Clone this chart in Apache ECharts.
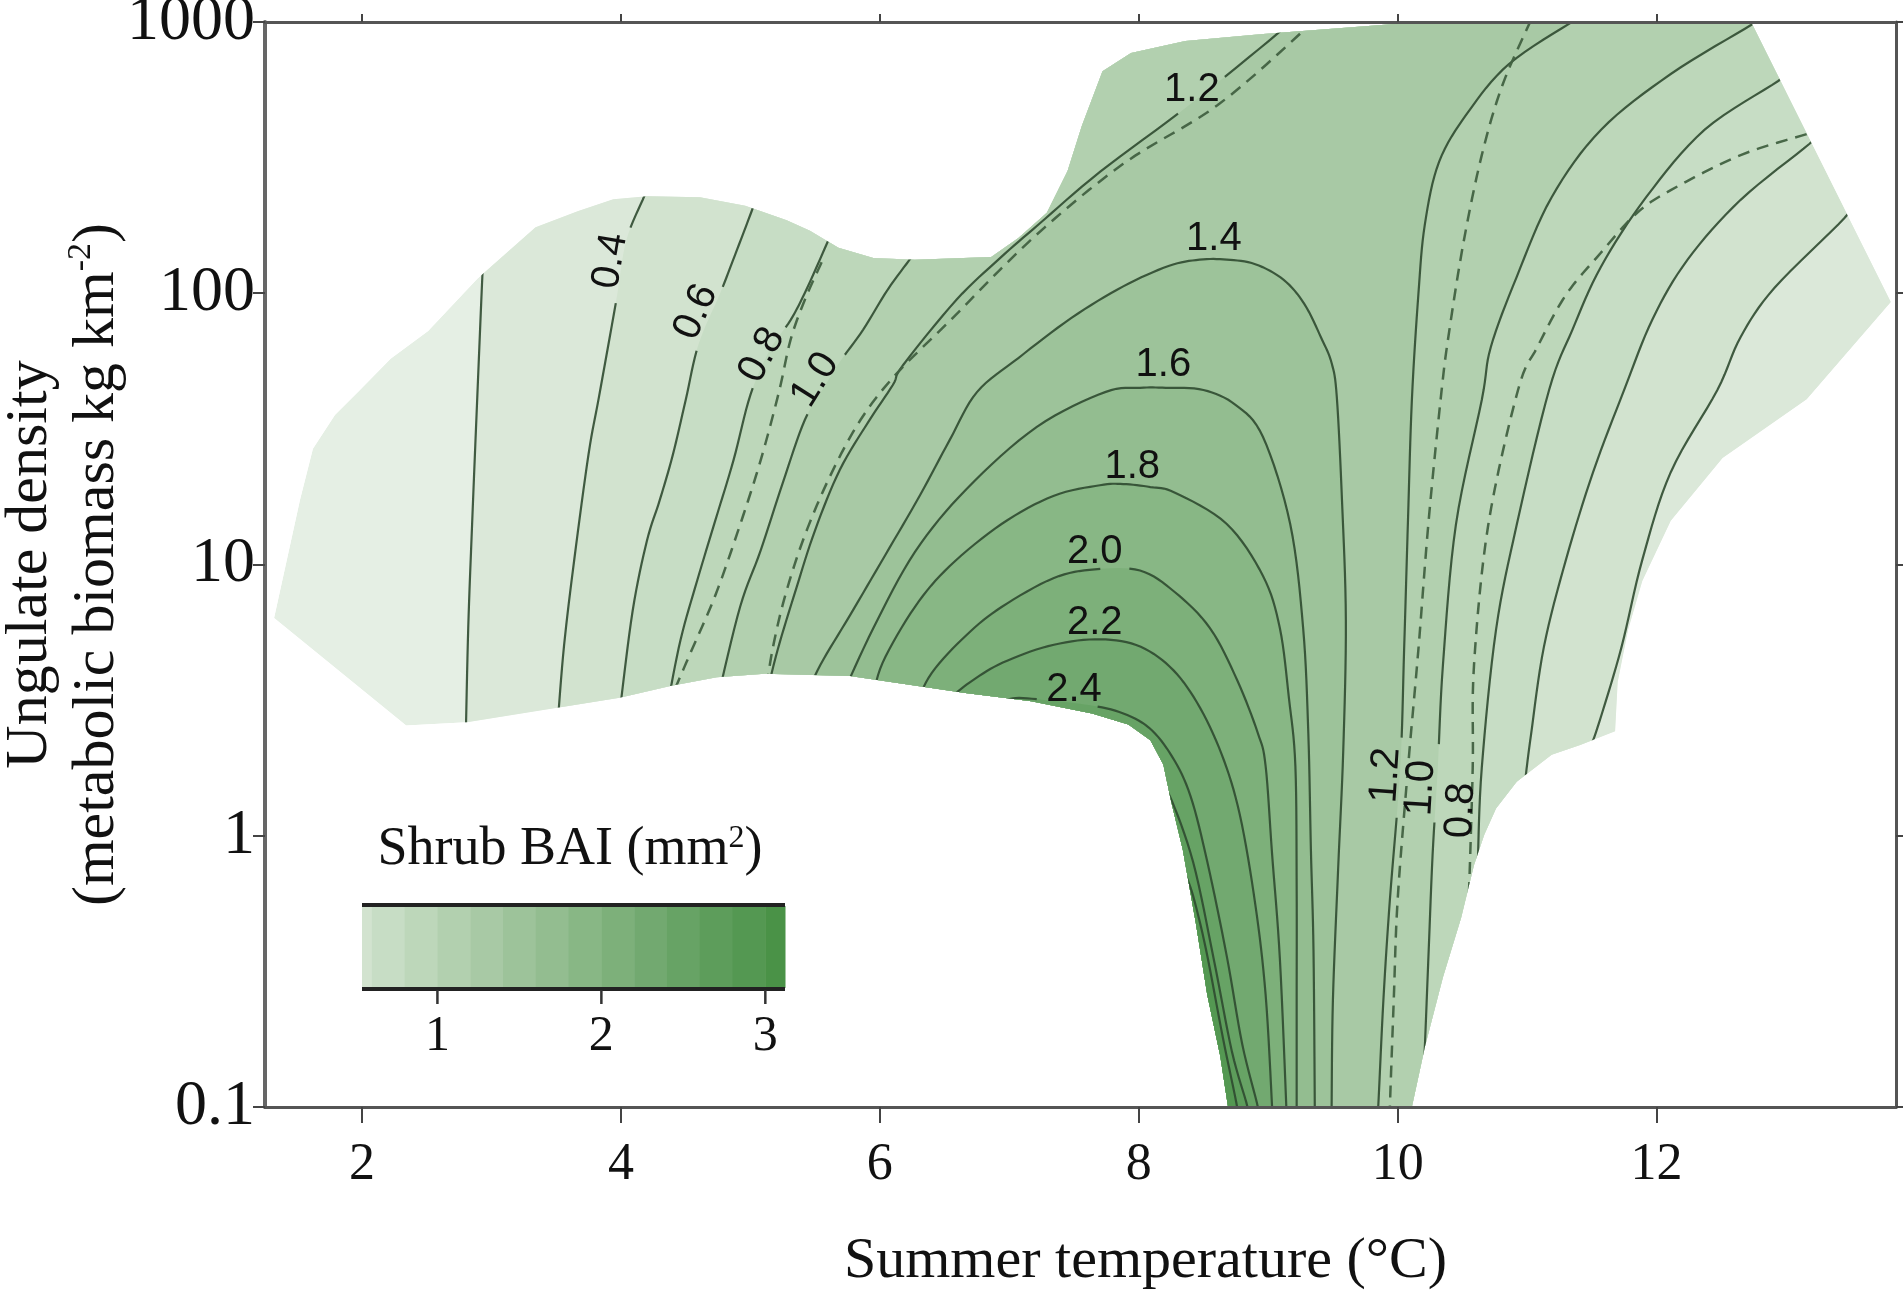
<!DOCTYPE html>
<html>
<head>
<meta charset="utf-8">
<script src="https://cdn.jsdelivr.net/npm/echarts@6/dist/echarts.min.js"></script>
<style>
  html, body { margin: 0; padding: 0; background: #fff; }
  #chart { width: 1903px; height: 1304px; }
</style>
</head>
<body>
<div id="chart"></div>
<script>
// ---- data (x: summer temperature, y: ungulate density) ----
const xTicks = [2, 4, 6, 8, 10, 12];

const paletteLevels = [0.2, 0.4, 0.6, 0.8, 1.0, 1.2, 1.4, 1.6, 1.8, 2.0, 2.2, 2.4, 2.6, 2.8, 3.0];
const baseColor = '#e5efe4';
const bandColors = ['#dbe8d9', '#d2e3cf', '#c7ddc5', '#bdd7ba', '#b2d0af', '#a8c9a5', '#9dc39a',
  '#93bd90', '#88b785', '#7db07a', '#72a970', '#67a365', '#5d9d5b', '#549852', '#4a9247'];

// sampled region of the model surface
const domainOutline = [
  [1.32, 6.35], [1.52, 17.3], [1.62, 26.7], [1.79, 35.6], [1.97, 43.3], [2.22, 57.3], [2.51, 72.6],
  [2.89, 113], [3.34, 175], [3.67, 201], [3.94, 222], [4.20, 228], [4.61, 226], [4.96, 210],
  [5.28, 186], [5.46, 170], [5.68, 147], [5.95, 135], [6.27, 133], [6.86, 136], [7.07, 160],
  [7.29, 198], [7.45, 282], [7.56, 414], [7.72, 659], [7.94, 769], [8.36, 851], [8.96, 903],
  [9.67, 959], [10.18, 1000], [12.73, 1000], [13.81, 92.9], [13.16, 40.7], [12.51, 24.7],
  [12.11, 14.5], [11.89, 8.69], [11.78, 5.74], [11.70, 3.69], [11.68, 2.43], [11.41, 2.16],
  [11.19, 1.99], [10.92, 1.58], [10.76, 1.26], [10.67, 1.01], [10.59, 0.78], [10.49, 0.498],
  [10.35, 0.301], [10.21, 0.166], [10.11, 0.1], [8.69, 0.1], [8.63, 0.154], [8.53, 0.258],
  [8.44, 0.48], [8.34, 0.89], [8.25, 1.34], [8.19, 1.83], [8.09, 2.25], [7.92, 2.57],
  [7.64, 2.82], [7.17, 3.13], [6.66, 3.36], [5.77, 3.88], [5.11, 3.96], [4.74, 3.84],
  [4.39, 3.57], [3.99, 3.23], [3.52, 2.97], [2.81, 2.62], [2.34, 2.55]
];

// contour lines of shrub BAI
const c02Left = [[2.80, 2.2], [2.82, 5.83], [2.85, 14.1], [2.89, 41.5], [2.93, 118], [2.94, 135]];
const c04Left = [[3.51, 2.56], [3.56, 5.01], [3.64, 10.5], [3.75, 25.6], [3.83, 41.5], [3.96, 92.0],
  [4.04, 156], [4.18, 228], [4.21, 251]];
const c04Right = [[13.50, 212], [13.45, 189], [12.91, 104.5], [12.65, 69.0], [12.47, 44.0], [12.11, 21.9],
  [11.89, 10.4], [11.73, 4.97], [11.57, 2.74], [11.49, 2.11]];
const c06Left = [[3.99, 2.86], [4.09, 6.74], [4.20, 12.2], [4.30, 17.3], [4.40, 25.3], [4.50, 40.4],
  [4.60, 65.0], [4.77, 101], [4.88, 138], [5.01, 201], [5.04, 221]];
const c06Right = [[13.23, 383], [13.18, 355], [12.65, 221], [12.24, 133], [11.97, 80.4], [11.75, 44.0],
  [11.51, 21.9], [11.30, 10.4], [11.13, 4.97], [11.03, 2.35], [10.99, 1.67]];
const c08Left = [[4.36, 3.03], [4.46, 5.27], [4.59, 8.77], [4.73, 14.6], [4.87, 24.3], [5.00, 42.2],
  [5.15, 61.8], [5.31, 79.6], [5.44, 105], [5.63, 168], [5.68, 187]];
const c08Right = [[12.97, 638], [12.94, 606], [12.37, 400], [11.92, 226], [11.57, 125], [11.35, 73.3],
  [11.17, 44.0], [10.92, 14.0], [10.76, 5.74], [10.65, 1.78], [10.62, 0.815]];
const c10Left = [[4.75, 3.25], [4.92, 6.97], [5.08, 11.3], [5.25, 20.0], [5.42, 34.1], [5.58, 45.9],
  [5.69, 55.8], [5.87, 73.3], [6.06, 103], [6.24, 135], [6.28, 144]];
const c10Right = [[12.77, 1016], [12.73, 975], [12.11, 643], [11.57, 400], [11.19, 226], [10.92, 115],
  [10.72, 63.4], [10.65, 40.4], [10.45, 14.0], [10.35, 4.26], [10.31, 1.78], [10.27, 0.849],
  [10.24, 0.379], [10.21, 0.166], [10.20, 0.137]];
const c12Left = [[5.11, 3.11], [5.21, 4.84], [5.35, 8.05], [5.50, 13.4], [5.69, 22.3], [5.91, 33.5],
  [6.10, 45.9], [6.18, 54.4], [6.59, 94.4], [6.93, 135], [7.23, 180], [7.70, 280], [8.39, 494],
  [9.06, 896], [9.22, 1061]];
const c12Right = [[11.49, 1089], [11.37, 1016], [10.86, 700], [10.54, 462], [10.32, 305], [10.21, 179],
  [10.16, 98.6], [10.11, 40.4], [10.08, 14.6], [10.05, 4.84], [10.02, 1.78], [9.94, 0.580],
  [9.89, 0.248], [9.85, 0.1], [9.84, 0.09]];
const c14 = [[5.41, 3.11], [5.54, 4.26], [5.77, 6.51], [6.04, 10.8], [6.31, 18.0], [6.54, 28.8],
  [6.75, 43.2], [7.07, 57.7], [7.48, 81.1], [7.88, 106], [8.23, 126], [8.47, 133], [8.68, 133],
  [8.90, 128], [9.12, 112], [9.28, 91.2], [9.41, 68.4], [9.49, 55.3], [9.53, 41.5], [9.57, 17.3],
  [9.60, 6.24], [9.58, 2.07], [9.54, 0.748], [9.50, 0.248], [9.49, 0.1], [9.49, 0.09]];
const c16 = [[5.70, 3.22], [5.95, 5.83], [6.27, 11.1], [6.67, 19.0], [7.21, 32.1], [7.74, 43.2],
  [8.01, 44.8], [8.21, 44.8], [8.50, 44.0], [8.75, 38.7], [8.96, 29.5], [9.17, 14.1], [9.27, 5.83],
  [9.31, 2.39], [9.33, 0.886], [9.35, 0.379], [9.36, 0.1], [9.36, 0.09]];
const c18 = [[5.94, 3.11], [6.02, 4.33], [6.27, 6.97], [6.54, 9.87], [6.94, 14.1], [7.34, 17.9],
  [7.70, 19.6], [7.88, 19.8], [8.09, 19.3], [8.28, 18.4], [8.68, 14.1], [8.96, 9.07], [9.09, 5.83],
  [9.16, 3.22], [9.21, 1.81], [9.22, 0.637], [9.22, 0.248], [9.22, 0.1], [9.22, 0.09]];
const c20 = [[6.27, 2.96], [6.40, 3.98], [6.67, 5.50], [6.94, 6.97], [7.34, 8.9], [7.66, 9.6],
  [8.01, 9.5], [8.28, 7.9], [8.55, 5.83], [8.76, 3.75], [8.92, 2.39], [8.98, 1.81], [9.03, 0.857],
  [9.09, 0.354], [9.14, 0.1], [9.14, 0.09]];
const c22 = [[6.55, 3.25], [6.72, 3.75], [6.95, 4.35], [7.30, 5.0], [7.66, 5.3], [7.98, 5.05],
  [8.24, 4.2], [8.45, 3.1], [8.64, 2.0], [8.78, 1.2], [8.90, 0.56], [8.98, 0.26], [9.03, 0.1],
  [9.03, 0.09]];
const c24 = [[6.95, 3.1], [7.05, 3.22], [7.32, 3.15], [7.58, 3.05], [7.85, 2.86], [8.08, 2.50],
  [8.26, 1.95], [8.40, 1.40], [8.53, 0.80], [8.68, 0.36], [8.80, 0.17], [8.92, 0.1], [8.92, 0.09]];
const c26 = [[8.15, 1.6], [8.24, 1.4], [8.42, 0.8], [8.58, 0.35], [8.72, 0.16], [8.84, 0.1], [8.84, 0.09]];
const c28 = [[8.36, 0.72], [8.42, 0.6], [8.52, 0.38], [8.65, 0.18], [8.76, 0.1], [8.76, 0.09]];

// dashed reference contours
const dashLeftA = [[5.55, 130], [5.42, 94.4], [5.31, 67.3], [5.22, 43.2], [5.08, 24.3], [4.92, 14.0],
  [4.73, 7.72], [4.53, 4.64], [4.38, 3.16], [4.35, 2.9]];
const dashLeftB = [[9.33, 1016], [9.27, 927], [8.61, 494], [7.88, 300], [7.19, 161], [6.54, 79.1],
  [6.12, 50.0], [5.85, 34.1], [5.62, 21.4], [5.42, 12.8], [5.27, 7.72], [5.17, 4.84], [5.11, 3.16],
  [5.09, 2.9]];
const dashRightA = [[11.03, 1016], [10.81, 586], [10.65, 323], [10.51, 155], [10.40, 73.3], [10.34, 44.0],
  [10.24, 14.6], [10.16, 4.84], [10.08, 1.78], [10.00, 0.580], [9.97, 0.248], [9.94, 0.1], [9.94, 0.09]];
const dashRightB = [[13.16, 386], [12.65, 323], [12.11, 240], [11.84, 196], [11.57, 141], [11.30, 98.6],
  [11.08, 63.4], [10.93, 44.0], [10.70, 14.0], [10.59, 4.26], [10.58, 1.78], [10.55, 0.595], [10.54, 0.5]];

// contour labels: text, x, y (label centre)
const contourLabels = [
  ['0.4', 3.92, 131.5], ['0.6', 4.58, 85.3], ['0.8', 5.09, 59.2], ['1.0', 5.50, 47.9],
  ['1.2', 8.41, 561], ['1.4', 8.58, 158], ['1.6', 8.19, 54.4], ['1.8', 7.95, 22.9],
  ['2.0', 7.66, 11.1], ['2.2', 7.66, 6.1], ['2.4', 7.50, 3.45],
  ['1.2', 9.91, 1.67], ['1.0', 10.18, 1.50], ['0.8', 10.49, 1.24]
];

const legendTicks = [1, 2, 3];
const legendRange = [0.54, 3.12];

// ---- drawing ----
const contourParts = [
  [0.2, [c02Left]], [0.4, [c04Left, c04Right]], [0.6, [c06Left, c06Right]],
  [0.8, [c08Left, c08Right]], [1.0, [c10Left, c10Right]], [1.2, [c12Left, c12Right]],
  [1.4, [c14]], [1.6, [c16]], [1.8, [c18]], [2.0, [c20]], [2.2, [c22]], [2.4, [c24]],
  [2.6, [c26]], [2.8, [c28]]
];
const dashedLines = [dashLeftA, dashLeftB, dashRightA, dashRightB];

const serif = '"Liberation Serif", "Times New Roman", serif';
const sans = '"Liberation Sans", Arial, sans-serif';
const labelFont = 40;
const lineColor = '#2f4a30';

function colorAt(v) {
  let c = baseColor;
  paletteLevels.forEach((l, i) => { if (v >= l - 1e-9) c = bandColors[i]; });
  return c;
}

function catmull(pts, steps) {
  if (pts.length < 3) return pts.slice();
  const out = [];
  for (let i = 0; i < pts.length - 1; i++) {
    const p0 = pts[Math.max(i - 1, 0)], p1 = pts[i], p2 = pts[i + 1], p3 = pts[Math.min(i + 2, pts.length - 1)];
    for (let s = 0; s < steps; s++) {
      const t = s / steps, t2 = t * t, t3 = t2 * t;
      out.push([0, 1].map(k => 0.5 * (2 * p1[k] + (p2[k] - p0[k]) * t +
        (2 * p0[k] - 5 * p1[k] + 4 * p2[k] - p3[k]) * t2 + (3 * p1[k] - p0[k] - 3 * p2[k] + p3[k]) * t3)));
    }
  }
  out.push(pts[pts.length - 1]);
  return out;
}

function renderContours(params, api) {
  const cs = params.coordSys;
  const top = cs.y - 80, bottom = cs.y + cs.height + 80, right = cs.x + cs.width + 80;
  const toPx = pts => pts.map(p => api.coord(p));
  const smooth = pts => catmull(toPx(pts), 8);
  const outlinePx = toPx(domainOutline);

  const fills = [{ type: 'polygon', shape: { points: outlinePx }, style: { fill: baseColor } }];
  const solid = [];
  contourParts.forEach(([level, parts]) => {
    const segs = parts.map(smooth);
    const poly = [[segs[0][0][0], bottom]];
    segs.forEach((seg, j) => {
      if (j > 0) {
        const prev = segs[j - 1][segs[j - 1].length - 1];
        poly.push([prev[0], top], [seg[0][0], top]);
      }
      seg.forEach(p => poly.push(p));
    });
    const lastSeg = segs[segs.length - 1];
    const last = lastSeg[lastSeg.length - 1];
    if (last[1] < cs.y + cs.height / 2) poly.push([last[0], top], [right, top], [right, bottom]);
    else poly.push([last[0], bottom]);
    fills.push({ type: 'polygon', shape: { points: poly }, style: { fill: colorAt(level) } });
    segs.forEach(seg => solid.push({ level, seg }));
  });

  const labels = contourLabels.map(([text, x, y]) => {
    const c = api.coord([x, y]);
    const level = parseFloat(text);
    let best = null, bestD = Infinity;
    solid.filter(s => Math.abs(s.level - level) < 1e-6).forEach(s => {
      s.seg.forEach((p, k) => {
        const d = Math.hypot(p[0] - c[0], p[1] - c[1]);
        if (d < bestD) { bestD = d; best = { seg: s.seg, k }; }
      });
    });
    const a = best.seg[Math.max(best.k - 3, 0)];
    const b = best.seg[Math.min(best.k + 3, best.seg.length - 1)];
    let ang = Math.atan2(-(b[1] - a[1]), b[0] - a[0]);
    if (ang > Math.PI / 2) ang -= Math.PI;
    if (ang <= -Math.PI / 2) ang += Math.PI;
    if (Math.abs(ang) < Math.PI / 4) ang = 0;
    return { text, level, c, ang, w: text.length * 0.5 * labelFont, h: 0.72 * labelFont };
  });

  const inLabel = (p, level) => labels.some(L => {
    if (Math.abs(L.level - level) > 1e-6) return false;
    const dx = p[0] - L.c[0], dy = p[1] - L.c[1];
    const u = dx * Math.cos(L.ang) - dy * Math.sin(L.ang);
    const v = -dx * Math.sin(L.ang) - dy * Math.cos(L.ang);
    return Math.abs(u) < L.w / 2 + 3 && Math.abs(v) < L.h / 2 + 2;
  });

  const lines = [];
  solid.forEach(({ level, seg }) => {
    let run = [];
    seg.forEach(p => {
      if (inLabel(p, level)) { if (run.length > 1) lines.push(run); run = []; }
      else run.push(p);
    });
    if (run.length > 1) lines.push(run);
  });

  const lineEls = lines.map(pts => ({
    type: 'polyline', shape: { points: pts },
    style: { stroke: lineColor, lineWidth: 2.2, fill: null, opacity: 0.9 }
  }));
  const dashEls = dashedLines.map(d => ({
    type: 'polyline', shape: { points: smooth(d) },
    style: { stroke: '#416141', lineWidth: 2.5, fill: null, lineDash: [12, 8], opacity: 0.95 }
  }));
  const textEls = labels.map(L => ({
    type: 'text', x: L.c[0], y: L.c[1], rotation: L.ang,
    style: {
      text: L.text, fill: '#111', font: labelFont + 'px ' + sans,
      align: 'center', verticalAlign: 'middle', textAlign: 'center', textVerticalAlign: 'middle'
    }
  }));

  return {
    type: 'group',
    children: [
      {
        type: 'group',
        clipPath: { type: 'polygon', shape: { points: outlinePx } },
        children: fills.concat(lineEls, dashEls)
      },
      { type: 'group', children: textEls }
    ]
  };
}

// legend colour bar
const legendBox = { left: 362, right: 785, top: 906, bottom: 988 };
const toLegendX = v => legendBox.left + (v - legendRange[0]) / (legendRange[1] - legendRange[0]) * (legendBox.right - legendBox.left);
const legendEdges = [legendRange[0]].concat(paletteLevels.filter(l => l > legendRange[0] && l < legendRange[1]), [legendRange[1]]);
const legendEls = [];
for (let i = 0; i < legendEdges.length - 1; i++) {
  const x0 = toLegendX(legendEdges[i]), x1 = toLegendX(legendEdges[i + 1]);
  legendEls.push({
    type: 'rect', shape: { x: x0, y: legendBox.top, width: x1 - x0 + 0.5, height: legendBox.bottom - legendBox.top },
    style: { fill: colorAt(legendEdges[i] + 1e-6) }
  });
}
legendEls.push(
  { type: 'rect', shape: { x: legendBox.left, y: legendBox.top - 3, width: legendBox.right - legendBox.left, height: 4 }, style: { fill: '#222' } },
  { type: 'rect', shape: { x: legendBox.left, y: legendBox.bottom - 1, width: legendBox.right - legendBox.left, height: 4 }, style: { fill: '#222' } }
);
legendTicks.forEach(t => {
  const x = toLegendX(t);
  legendEls.push(
    { type: 'line', shape: { x1: x, y1: legendBox.bottom + 2, x2: x, y2: legendBox.bottom + 16 }, style: { stroke: '#333', lineWidth: 2.5 } },
    { type: 'text', x: x, y: legendBox.bottom + 24,
      style: { text: String(t), fill: '#111', font: '50px ' + serif, align: 'center', verticalAlign: 'top', textAlign: 'center', textVerticalAlign: 'top' } }
  );
});
legendEls.push({
  type: 'text', x: 570, y: 850,
  style: {
    text: 'Shrub BAI (mm{sup|2})', fill: '#111', font: '54px ' + serif,
    align: 'center', verticalAlign: 'middle', textAlign: 'center', textVerticalAlign: 'middle',
    rich: { sup: { fontSize: 32, fontFamily: serif, verticalAlign: 'top', fill: '#111' } }
  }
});

const axisLine = { show: true, onZero: false, lineStyle: { color: '#555', width: 3 } };
const tickStyle = { color: '#444', width: 2 };

const option = {
  animation: false,
  backgroundColor: '#fff',
  grid: { left: 265, right: 7, top: 22, bottom: 197, containLabel: false, outerBoundsMode: 'none' },
  xAxis: [
    {
      type: 'value', min: 1.25, max: 13.85, position: 'bottom', z: 10,
      axisLine,
      axisTick: { show: true, length: 16, customValues: xTicks, lineStyle: tickStyle },
      axisLabel: { customValues: xTicks, margin: 32, fontFamily: serif, fontSize: 52, color: '#111' },
      splitLine: { show: false },
      name: 'Summer temperature (°C)', nameLocation: 'middle', nameGap: 126, nameMoveOverlap: false,
      nameTextStyle: { fontFamily: serif, fontSize: 58, color: '#111', padding: [0, 0, 0, 130] }
    },
    {
      type: 'value', min: 1.25, max: 13.85, position: 'top', z: 10,
      axisLine,
      axisTick: { show: true, length: 8, customValues: xTicks, lineStyle: tickStyle },
      axisLabel: { show: false }, splitLine: { show: false }
    }
  ],
  yAxis: [
    {
      type: 'log', logBase: 10, min: 0.1, max: 1000, position: 'left', z: 10,
      axisLine: { show: true, onZero: false, lineStyle: { color: '#666', width: 4 } },
      axisTick: { show: true, length: 12, lineStyle: tickStyle },
      minorTick: { show: false },
      axisLabel: { margin: 10, fontFamily: serif, fontSize: 64, color: '#111', formatter: v => String(Number(v.toPrecision(3))) },
      splitLine: { show: false },
      name: 'Ungulate density\n(metabolic biomass kg km{sup|-2})',
      nameLocation: 'middle', nameGap: 134, nameMoveOverlap: false,
      nameTextStyle: {
        fontFamily: serif, fontSize: 60, lineHeight: 67, color: '#111',
        rich: { sup: { fontFamily: serif, fontSize: 34, verticalAlign: 'top', color: '#111' } }
      }
    },
    {
      type: 'log', logBase: 10, min: 0.1, max: 1000, position: 'right', z: 10,
      axisLine,
      axisTick: { show: true, length: 8, lineStyle: tickStyle },
      axisLabel: { show: false }, splitLine: { show: false }, minorTick: { show: false }
    }
  ],
  graphic: { elements: legendEls },
  series: [
    {
      type: 'custom',
      coordinateSystem: 'cartesian2d',
      xAxisIndex: 0, yAxisIndex: 0,
      data: [[5, 10]],
      silent: true,
      clip: false,
      renderItem: renderContours
    }
  ]
};

const chart = echarts.init(document.getElementById('chart'), null, { renderer: 'canvas' });
chart.setOption(option);
</script>
</body>
</html>
